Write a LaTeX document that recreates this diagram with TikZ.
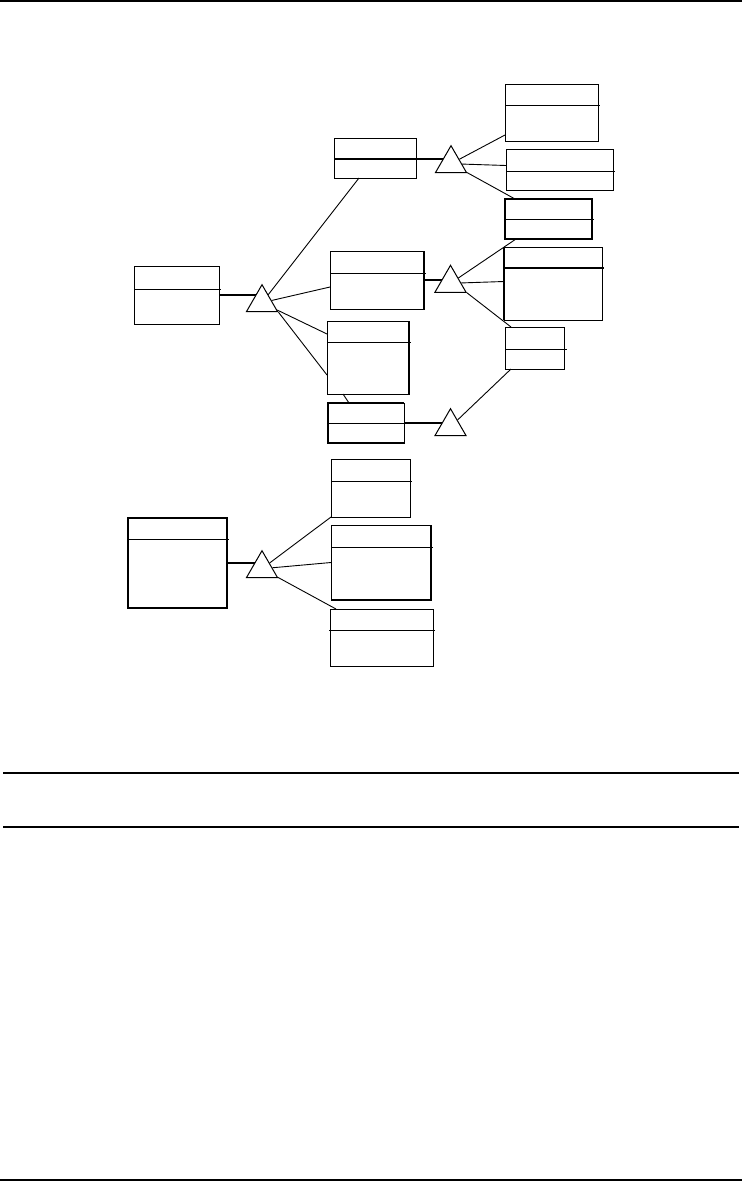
\documentclass[tikz,border=0pt]{standalone}
\usetikzlibrary{shapes.geometric,backgrounds}
\tikzset{
  cls/.style={draw, line width=0.8pt, inner sep=0pt, outer sep=0pt, anchor=north west},
  split/.style={line width=0.8pt},
  bold/.style={line width=1.6pt},
  gen/.style={regular polygon, regular polygon sides=3, draw, fill=white, line width=1pt, inner sep=0pt, minimum size=36pt},
  link/.style={line width=0.9pt},
  heavy/.style={line width=2.2pt},
  rule/.style={line width=1.2pt}
}
\begin{document}
\begin{tikzpicture}[x=1pt,y=-1pt]
\useasboundingbox (0,0) rectangle (742,1181);
% page rules
\draw[rule] (0,1) -- (742,1);
\draw[rule] (3,773) -- (739,773);
\draw[rule] (3,827) -- (739,827);
\draw[rule] (0,1180) -- (742,1180);

% classes, upper hierarchy
\node[cls, minimum width=85pt, minimum height=58pt] (base1) at (134,266) {};
\node[cls, minimum width=82pt, minimum height=40pt] (sub1) at (334,138) {};
\node[cls, minimum width=94pt, minimum height=58pt] (sub2) at (330,251) {};
\node[cls, minimum width=82pt, minimum height=73pt] (sub3) at (327,321) {};
\node[cls, minimum width=76pt, minimum height=40pt] (sub4) at (328,403) {};
\node[cls, minimum width=93pt, minimum height=57pt] (leaf1) at (505,84) {};
\node[cls, minimum width=107pt, minimum height=41pt] (leaf2) at (506,149) {};
\node[cls, bold, minimum width=87pt, minimum height=40pt] (leaf3) at (505,199) {};
\node[cls, minimum width=98pt, minimum height=73pt] (leaf4) at (504,247) {};
\node[cls, minimum width=59pt, minimum height=42pt] (leaf5) at (505,327) {};

% classes, lower hierarchy
\node[cls, bold, minimum width=99pt, minimum height=90pt] (base2) at (128,518) {};
\node[cls, minimum width=79pt, minimum height=58pt] (sub5) at (331,459) {};
\node[cls, minimum width=100pt, minimum height=75pt] (sub6) at (331,525) {};
\node[cls, minimum width=103pt, minimum height=57pt] (sub7) at (330,609) {};

% compartment lines
\draw[split] (base1.west |- 0,289) -- ++(87,0);
\draw[split] (sub2.west |- 0,273) -- ++(96,0);
\draw[split] (sub3.west |- 0,342) -- ++(84,0);
\draw[split] (sub4.west |- 0,423) -- ++(76,0);
\draw[split] (leaf1.west |- 0,105) -- ++(95,0);
\draw[split] (leaf2.west |- 0,171) -- ++(109,0);
\draw[split] (leaf3.west |- 0,219) -- ++(89,0);
\draw[bold] (leaf4.west |- 0,268) -- ++(100,0);
\draw[split] (leaf5.west |- 0,349) -- ++(62,0);
\draw[split] (base2.west |- 0,539) -- ++(101,0);
\draw[split] (sub5.west |- 0,481) -- ++(81,0);
\draw[split] (sub6.west |- 0,547) -- ++(102,0);
\draw[split] ([xshift=-1pt]sub7.west |- 0,630) -- ++(106,0);

% heavier sides
\draw[bold] (sub2.north east) -- (sub2.south east);
\draw[bold] (sub3.north east) -- (sub3.south east);
\draw[bold] (sub4.north east) -- (sub4.north west) -- (sub4.south west) -- (sub4.south east);
\draw[bold] (leaf4.north west) -- (leaf4.south west);
\draw[bold] (sub6.north east) -- (sub6.south east) -- (sub6.south west);

% generalisation triangles
\node[gen] (g1) at (262,302.7) {};
\node[gen] (g2) at (451,163.7) {};
\node[gen] (g3) at (450.5,283.3) {};
\node[gen] (g4) at (450.5,426.7) {};
\node[gen] (g5) at (262,568.7) {};

\begin{scope}[on background layer]
\draw[heavy] (base1.east) -- (base1.east -| g1);
\draw[link] (g1) -- ([xshift=25pt]sub1.south west);
\draw[link] (g1) -- ([yshift=-7pt]sub2.west);
\draw[link] (g1) -- ([yshift=-13pt]sub3.north west);
\draw[link] (g1.corner 3) -- ([yshift=19pt]sub3.south west);
\draw[link] ([xshift=16pt]sub3.south west) -- ([xshift=21pt]sub4.north west);

\draw[bold] (sub1.west |- 0,159) -- (g2 |- 0,159);
\draw[link] (g2) -- ([yshift=6pt]leaf1.south west);
\draw[link] (g2) -- ([yshift=4pt]leaf2.west);
\draw[link] (g2) -- ([xshift=10pt]leaf3.north west);

\draw[heavy] (sub2.east) -- (sub2.east -| g3);
\draw[link] (g3) -- ([xshift=11pt]leaf3.south west);
\draw[link] (g3) -- ([yshift=2pt]leaf4.west);
\draw[link] (g3.corner 3) -- ([xshift=6pt]leaf5.north west);

\draw[heavy] (sub4.east) -- (sub4.east -| g4);
\draw[link] (g4) -- ([xshift=6pt]leaf5.south west);

\draw[heavy] (base2.east) -- (base2.east -| g5);
\draw[link] (g5) -- (sub5.south west);
\draw[link] (g5) -- (sub6.west);
\draw[link] (g5) -- ([xshift=6pt]sub7.north west);
\end{scope}
\end{tikzpicture}
\end{document}
